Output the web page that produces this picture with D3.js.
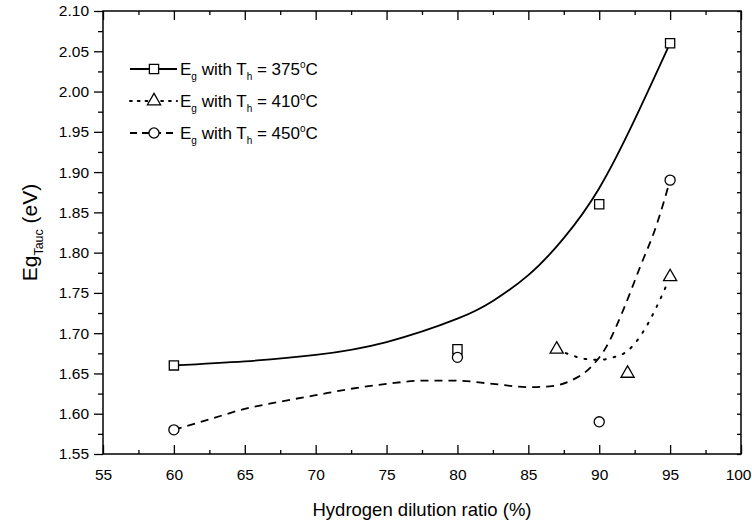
<!DOCTYPE html>
<html><head><meta charset="utf-8">
<script src="https://cdn.jsdelivr.net/npm/d3@7"></script>
<style>body{margin:0;background:#fff}svg{display:block;font-family:"Liberation Sans",Arial,Helvetica,sans-serif}</style>
</head><body><svg id="c" width="752" height="527"></svg>
<script>
// ---- data ----
const xMajorTicks = [55, 60, 65, 70, 75, 80, 85, 90, 95, 100];
const yMajorTicks = [1.55, 1.60, 1.65, 1.70, 1.75, 1.80, 1.85, 1.90, 1.95, 2.00, 2.05, 2.10];
const seriesLabels = ["375", "410", "450"];

// measured points
const x375 = [60, 80, 90, 95];
const y375 = [1.66, 1.68, 1.86, 2.06];
const x410 = [87, 92, 95];
const y410 = [1.68, 1.65, 1.77];
const x450 = [60, 80, 90, 95];
const y450 = [1.58, 1.67, 1.59, 1.89];

// fitted curves
const fitX375 = [60, 65, 70, 75, 80, 82.5, 85, 87.5, 90, 92.5, 95];
const fitY375 = [1.660, 1.665, 1.673, 1.689, 1.718, 1.740, 1.772, 1.818, 1.880, 1.965, 2.060];
const fitX410 = [87, 88, 89, 90, 91, 92, 93, 94, 95];
const fitY410 = [1.680, 1.673, 1.668, 1.667, 1.670, 1.678, 1.699, 1.731, 1.770];
const fitX450 = [60, 62.5, 65, 67.5, 70, 72.5, 75, 77.5, 80, 82.5, 85, 86.5, 88, 89.3, 90.5, 91.7, 92.9, 94, 95];
const fitY450 = [1.580, 1.593, 1.606, 1.615, 1.623, 1.631, 1.637, 1.641, 1.641, 1.637, 1.633, 1.634, 1.641, 1.656, 1.683, 1.729, 1.783, 1.832, 1.890];

// ---- layout ----
const L = 103, R = 741, T = 11, B = 454;
const FONT = "Liberation Sans, Arial, sans-serif";
const svg = d3.select("#c");
const x = d3.scaleLinear().domain([55, 100]).range([L, R]);
const y = d3.scaleLinear().domain([1.55, 2.10]).range([B, T]);
const xMinor = d3.range(57.5, 100, 5);
const yMinor = d3.range(1.575, 2.10, 0.05);

function styleAxis(g){ g.select(".domain").remove(); g.selectAll("line").attr("stroke","#000").attr("stroke-width",1.3); g.selectAll("text").attr("fill","#000"); }

// bottom axis (ticks inward)
svg.append("g").attr("transform",`translate(0,${B})`)
  .call(d3.axisBottom(x).tickValues(xMajorTicks).tickSize(-9).tickPadding(15).tickFormat(d3.format("d")))
  .call(styleAxis)
  .call(g=>g.selectAll("text").attr("font-size",15.5).attr("font-family",FONT))
  .call(g=>g.selectAll(".tick").filter(d=>d===100).select("text").attr("text-anchor","end").attr("x",10));
svg.append("g").attr("transform",`translate(0,${B})`)
  .call(d3.axisBottom(x).tickValues(xMinor).tickSize(-4).tickFormat(""))
  .call(styleAxis);
// top axis (ticks inward)
svg.append("g").attr("transform",`translate(0,${T})`)
  .call(d3.axisTop(x).tickValues(xMajorTicks).tickSize(-9).tickFormat(""))
  .call(styleAxis);
svg.append("g").attr("transform",`translate(0,${T})`)
  .call(d3.axisTop(x).tickValues(xMinor).tickSize(-4).tickFormat(""))
  .call(styleAxis);
// left axis (ticks outward)
svg.append("g").attr("transform",`translate(${L},0)`)
  .call(d3.axisLeft(y).tickValues(yMajorTicks).tickSize(9).tickPadding(5).tickFormat(d3.format(".2f")))
  .call(styleAxis).call(g=>g.selectAll("text").attr("font-size",15.5).attr("font-family",FONT));
svg.append("g").attr("transform",`translate(${L},0)`)
  .call(d3.axisLeft(y).tickValues(yMinor).tickSize(5).tickFormat(""))
  .call(styleAxis);
// right axis (ticks inward)
svg.append("g").attr("transform",`translate(${R},0)`)
  .call(d3.axisRight(y).tickValues(yMajorTicks.concat(yMinor)).tickSize(-4).tickFormat(""))
  .call(styleAxis);

// frame
svg.append("rect").attr("x",L).attr("y",T).attr("width",R-L).attr("height",B-T)
  .attr("fill","none").attr("stroke","#000").attr("stroke-width",1.5);

// axis titles
svg.append("text").attr("x",(L+R)/2).attr("y",516).attr("text-anchor","middle")
  .attr("font-size",18.5).text("Hydrogen dilution ratio (%)");
const yt = svg.append("text").attr("transform",`translate(37,${(T+B)/2}) rotate(-90)`)
  .attr("text-anchor","middle").attr("font-size",21);
yt.append("tspan").text("Eg");
yt.append("tspan").attr("font-size",12.5).attr("dy",6).text("Tauc");
yt.append("tspan").attr("dy",-6).text(" (eV)");

// curves
const lineOf = c => d3.line().x(d=>x(d[0])).y(d=>y(d[1])).curve(c);
const fits = [
  {xs:fitX375, ys:fitY375, dash:null, w:1.8, cap:"butt", curve:d3.curveNatural},
  {xs:fitX410, ys:fitY410, dash:"1.8,8", w:2, cap:"round", curve:d3.curveMonotoneX},
  {xs:fitX450, ys:fitY450, dash:"8,6", w:1.8, cap:"butt", curve:d3.curveMonotoneX}
];
fits.forEach(f=>{
  svg.append("path").datum(f.xs.map((v,i)=>[v,f.ys[i]]))
    .attr("d",lineOf(f.curve)).attr("fill","none").attr("stroke","#000")
    .attr("stroke-width",f.w).attr("stroke-linecap",f.cap)
    .attr("stroke-dasharray",f.dash);
});

// markers
const sq = d3.symbol().type(d3.symbolSquare).size(85);
const tri = d3.symbol().type(d3.symbolTriangle).size(75);
const cir = d3.symbol().type(d3.symbolCircle).size(80);
function drawMarkers(xs, ys, sym){
  svg.append("g").selectAll("path").data(xs.map((v,i)=>[v,ys[i]])).join("path")
    .attr("transform",d=>`translate(${x(d[0])},${y(d[1])})`)
    .attr("d",sym).attr("fill","#fff").attr("stroke","#000").attr("stroke-width",1.3);
}
drawMarkers(x375, y375, sq);
drawMarkers(x410, y410, tri);
drawMarkers(x450, y450, cir);

// legend
const legendRows = [
  {sym:sq, dash:null, w:1.8, cap:"butt", label:seriesLabels[0]},
  {sym:tri, dash:"1.8,6", w:2, cap:"round", label:seriesLabels[1]},
  {sym:cir, dash:"7,5", w:1.8, cap:"butt", label:seriesLabels[2]}
];
const legY = [69, 101, 133];
legendRows.forEach((r,i)=>{
  const yy = legY[i];
  svg.append("line").attr("x1",130).attr("x2",177).attr("y1",yy).attr("y2",yy)
    .attr("stroke","#000").attr("stroke-width",r.w).attr("stroke-linecap",r.cap).attr("stroke-dasharray",r.dash);
  svg.append("path").attr("transform",`translate(154,${yy})`).attr("d",r.sym)
    .attr("fill","#fff").attr("stroke","#000").attr("stroke-width",1.3);
  const t = svg.append("text").attr("x",180).attr("y",yy+6).attr("font-size",17);
  t.append("tspan").text("E");
  t.append("tspan").attr("font-size",10).attr("dy",5).text("g");
  t.append("tspan").attr("dy",-5).text(" with T");
  t.append("tspan").attr("font-size",10).attr("dy",5).text("h");
  t.append("tspan").attr("dy",-5).text(" = " + r.label);
  t.append("tspan").attr("font-size",10).attr("dy",-7).text("o");
  t.append("tspan").attr("dy",7).text("C");
});
</script>
</body></html>
